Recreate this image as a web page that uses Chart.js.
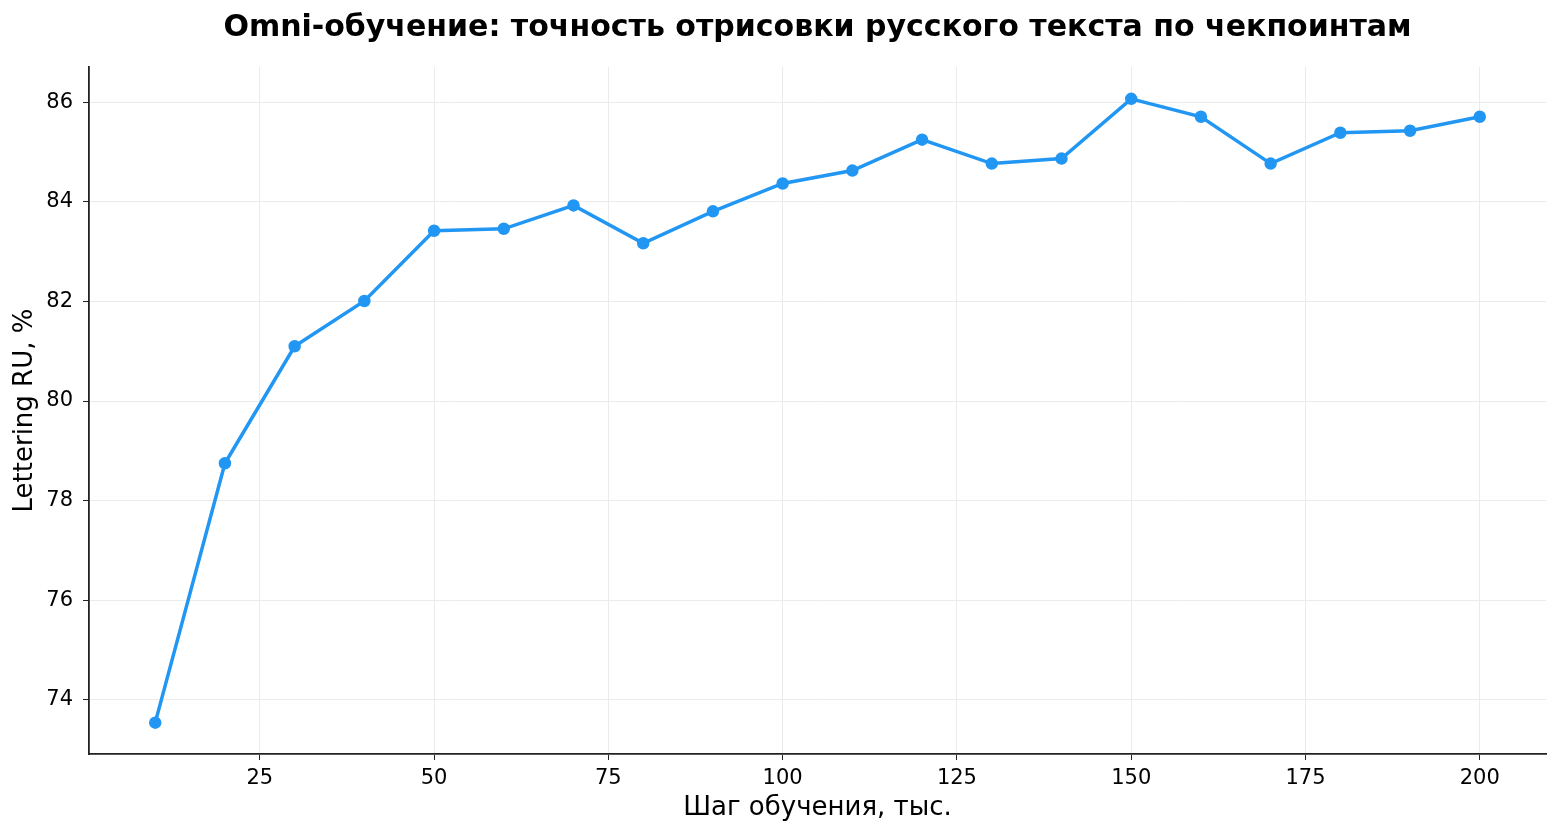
<!DOCTYPE html>
<html>
<head>
<meta charset="utf-8">
<script src="https://cdn.jsdelivr.net/npm/chart.js@4.4.1/dist/chart.umd.min.js"></script>
<style>
  html, body { margin: 0; padding: 0; background: white; }
  #wrap { width: 1560px; height: 837px; }
</style>
</head>
<body>
<div id="wrap"><canvas id="accChart" width="1560" height="837"></canvas></div>
<script>
// шаги обучения (тыс.) и точность
const steps = [10, 20, 30, 40, 50, 60, 70, 80, 90, 100, 110, 120, 130, 140, 150, 160, 170, 180, 190, 200];
const accuracy = [73.54, 78.75, 81.10, 82.01, 83.42, 83.46, 83.93, 83.17, 83.81, 84.37,
                  84.63, 85.25, 84.77, 84.87, 86.07, 85.71, 84.77, 85.39, 85.43, 85.71];
const xTicks = [25, 50, 75, 100, 125, 150, 175, 200];
const yTicks = [74, 76, 78, 80, 82, 84, 86];

const titleText = 'Omni-обучение: точность отрисовки русского текста по чекпоинтам';
const FONT = "'DejaVu Sans', sans-serif";

const ctx = document.getElementById('accChart').getContext('2d');

// заголовок по центру области графика, как в matplotlib
const titlePlugin = {
    id: 'axesTitle',
    afterDraw(chart) {
        const a = chart.chartArea;
        const c = chart.ctx;
        c.save();
        c.fillStyle = '#000';
        c.font = "bold 30px " + FONT;
        c.textAlign = 'center';
        c.textBaseline = 'middle';
        c.fillText(titleText, (a.left + a.right) / 2, 28);
        c.restore();
    }
};

new Chart(ctx, {
    type: 'line',
    data: {
        datasets: [{
            label: 'Lettering RU',
            data: steps.map((s, i) => ({ x: s, y: accuracy[i] })),
            borderColor: '#2196F3',
            backgroundColor: '#2196F3',
            borderWidth: 3.5,
            pointRadius: 4.5,
            pointHoverRadius: 5,
            tension: 0,
            fill: false
        }]
    },
    options: {
        responsive: false,
        animation: false,
        layout: { padding: { top: 67, right: 14, left: 0, bottom: 0 } },
        plugins: {
            legend: { display: false },
            tooltip: { enabled: false },
            title: { display: false }
        },
        scales: {
            x: {
                type: 'linear',
                min: 0.5,
                max: 209.5,
                afterBuildTicks: s => { s.ticks = xTicks.map(v => ({ value: v })); },
                afterFit: s => { s.height = 83; },
                ticks: {
                    includeBounds: false,
                    color: '#000',
                    font: { family: FONT, size: 21 },
                    padding: 6,
                    maxRotation: 0
                },
                grid: { color: '#ebebeb', lineWidth: 1, tickLength: 6, tickColor: '#222' },
                border: { color: '#222', width: 1.8 },
                title: {
                    display: true,
                    text: 'Шаг обучения, тыс.',
                    color: '#000',
                    font: { family: FONT, size: 26 },
                    padding: { top: 4, bottom: 13 }
                }
            },
            y: {
                type: 'linear',
                min: 72.91,
                max: 86.71,
                afterBuildTicks: s => { s.ticks = yTicks.map(v => ({ value: v })); },
                afterFit: s => { s.width = 89; },
                ticks: {
                    includeBounds: false,
                    color: '#000',
                    font: { family: FONT, size: 21 },
                    padding: 10
                },
                grid: { color: '#ebebeb', lineWidth: 1, tickLength: 6, tickColor: '#222' },
                border: { color: '#222', width: 1.8 },
                title: {
                    display: true,
                    text: 'Lettering RU, %',
                    color: '#000',
                    font: { family: FONT, size: 26 },
                    padding: { top: 10, bottom: 0 }
                }
            }
        }
    },
    plugins: [titlePlugin]
});
</script>
</body>
</html>
